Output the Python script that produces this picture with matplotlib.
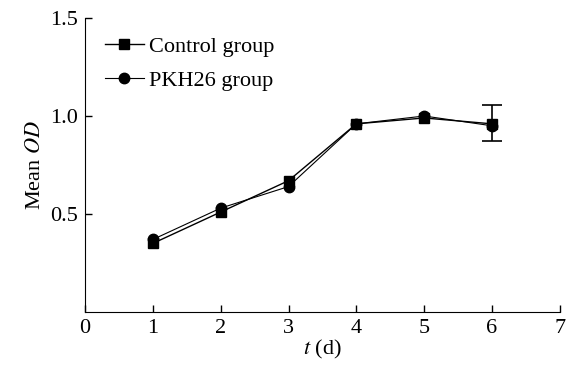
import matplotlib
matplotlib.use("Agg")
import matplotlib.pyplot as plt

days = [1, 2, 3, 4, 5, 6]
control = [0.35, 0.51, 0.67, 0.96, 0.99, 0.96]
pkh26 = [0.37, 0.53, 0.64, 0.96, 1.00, 0.95]
err_day = [6]
err_val = [0.965]
err_size = [0.09]

plt.rcParams["font.family"] = ["Liberation Serif", "DejaVu Serif"]
plt.rcParams["mathtext.fontset"] = "stix"

fig = plt.figure(figsize=(5.76, 3.71), dpi=100)
ax = fig.add_axes([0.1476, 0.159, 0.8244, 0.7925])

ax.plot(days, control, "k-", marker="s", markersize=7.5, linewidth=1.0, label="Control group")
ax.plot(days, pkh26, "k-", marker="o", markersize=7.5, linewidth=0.8, label="PKH26 group")
ax.errorbar(err_day, err_val, yerr=err_size, fmt="none", ecolor="k", elinewidth=1.2, capsize=7, capthick=1.2)

ax.set_xlim(0, 7)
ax.set_ylim(0, 1.5)
ax.set_xticks(range(0, 8))
ax.set_yticks([0.5, 1.0, 1.5])
ax.set_yticklabels(["0.5", "1.0", "1.5"])
ax.spines["top"].set_visible(False)
ax.spines["right"].set_visible(False)
ax.tick_params(direction="in", length=5, labelsize=16, width=1, pad=5)
ax.set_xlabel(r"$t$ (d)", fontsize=16, labelpad=0)
ax.set_ylabel(r"Mean $OD$", fontsize=16, labelpad=4)

ax.legend(loc="upper left", bbox_to_anchor=(0.0, 1.005), frameon=False, fontsize=16,
          handlelength=1.75, handletextpad=0.25, labelspacing=0.6)

fig.savefig("out.png", dpi=100)
